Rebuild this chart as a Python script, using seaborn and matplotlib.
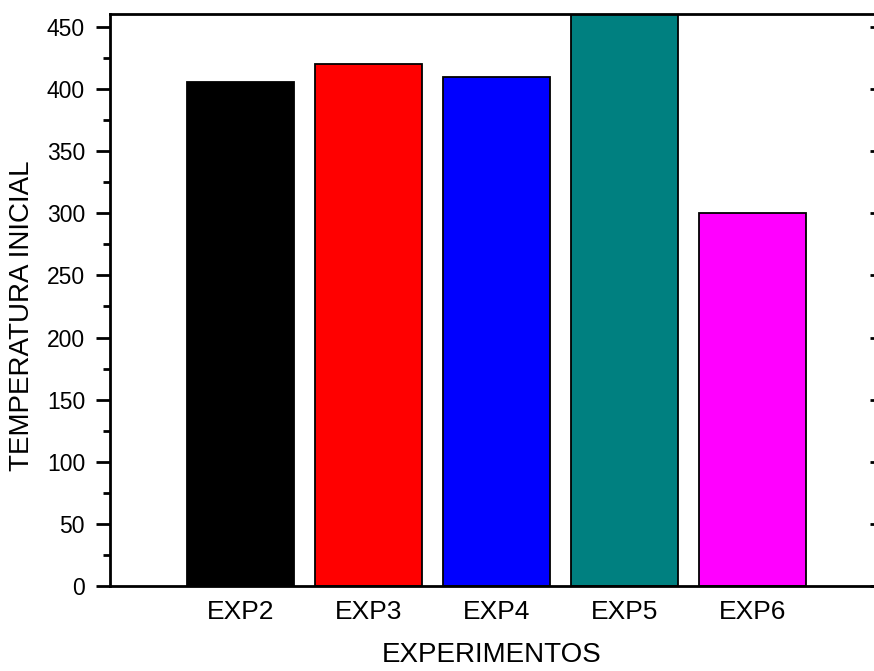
import matplotlib
matplotlib.use('Agg')
import matplotlib.pyplot as plt
from matplotlib.ticker import MultipleLocator
import pandas as pd
import seaborn as sns

experiments = ['EXP2', 'EXP3', 'EXP4', 'EXP5', 'EXP6']
temperatura_inicial = [406, 420, 410, 470, 300]
bar_colors = ['#000000', '#FF0000', '#0000FF', '#008080', '#FF00FF']

sns.set_style('ticks')
plt.rcParams['font.family'] = ['Liberation Sans', 'DejaVu Sans']
plt.rcParams['text.color'] = 'black'
plt.rcParams['axes.labelcolor'] = 'black'
plt.rcParams['xtick.color'] = 'black'
plt.rcParams['ytick.color'] = 'black'

data = pd.DataFrame({'exp': experiments, 'temp': temperatura_inicial})

fig = plt.figure(figsize=(8.74, 6.71), dpi=100)
ax = fig.add_axes([0.1259, 0.1267, 0.8741, 0.8525])

sns.barplot(data=data, x='exp', y='temp', hue='exp', palette=bar_colors,
            saturation=1, width=0.84, edgecolor='black', linewidth=1.3,
            legend=False, ax=ax)

ax.set_ylim(0, 460.5)
ax.set_xlim(-1.02, 4.95)
ax.yaxis.set_major_locator(MultipleLocator(50))
ax.yaxis.set_minor_locator(MultipleLocator(25))

for side in ['left', 'bottom', 'top']:
    ax.spines[side].set_linewidth(2)
    ax.spines[side].set_color('black')
ax.spines['right'].set_visible(False)

ax.tick_params(axis='y', which='major', direction='out', length=10, width=2,
               labelsize=16.5, pad=8)
ax.tick_params(axis='y', which='minor', direction='out', length=5, width=2)
ax.tick_params(axis='y', which='both', right=False)
ax.tick_params(axis='x', length=0, labelsize=19, pad=10)

# short marks along the right edge
sec = ax.secondary_yaxis('right')
sec.spines['right'].set_visible(False)
sec.yaxis.set_major_locator(MultipleLocator(50))
sec.tick_params(direction='in', length=3, width=2, labelright=False)

ax.set_xlabel('EXPERIMENTOS', fontsize=20, labelpad=13)
ax.set_ylabel('TEMPERATURA INICIAL', fontsize=20)
ax.yaxis.set_label_coords(-0.098, 0.472)

fig.savefig('out.png', dpi=100)
